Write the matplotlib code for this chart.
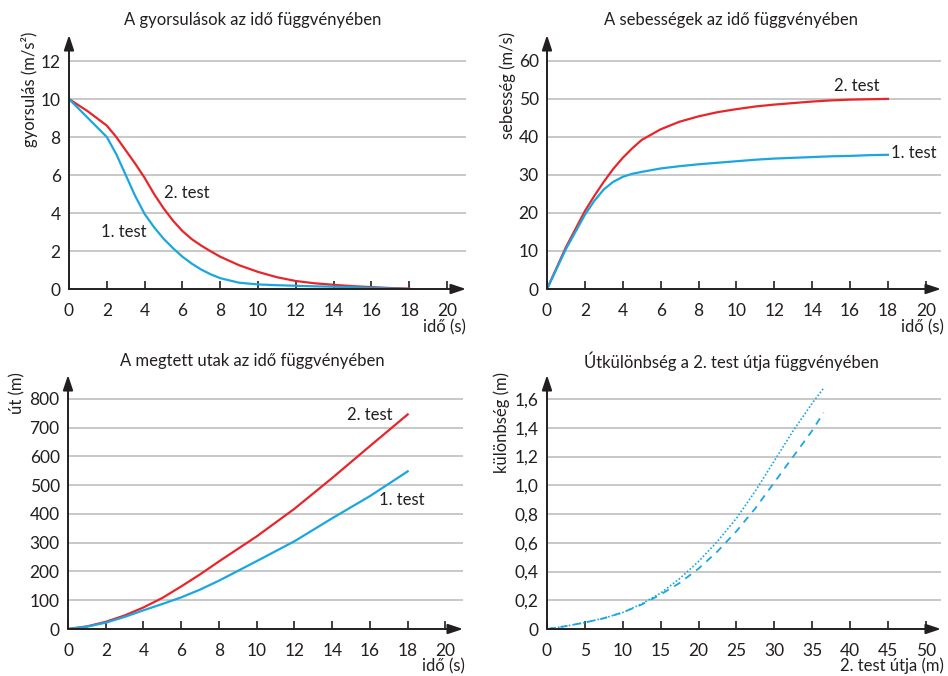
import matplotlib
matplotlib.use("Agg")
import matplotlib.pyplot as plt
from matplotlib.ticker import FuncFormatter

plt.rcParams['font.family'] = ['Lato', 'DejaVu Sans']

RED = '#e8262a'
BLUE = '#1aa7e0'
DARK = '#231f20'
GRID = '#c8c8c8'

# --- data ---
t_acc_1 = [0, 1, 2, 2.5, 3, 3.5, 4, 4.5, 5, 5.5, 6, 6.5, 7, 7.5, 8, 9, 10, 11, 12, 13, 14, 15, 16, 17, 18]
acc_1 = [10, 9.0, 8.0, 7.1, 6.0, 4.9, 3.95, 3.25, 2.65, 2.15, 1.7, 1.33, 1.02, 0.77, 0.57, 0.33, 0.24, 0.2, 0.17, 0.14, 0.12, 0.09, 0.06, 0.03, 0.0]
t_acc_2 = [0, 1, 2, 2.5, 3, 3.5, 4, 4.5, 5, 5.5, 6, 6.5, 7, 7.5, 8, 9, 10, 11, 12, 13, 14, 15, 16, 17, 18]
acc_2 = [10, 9.35, 8.6, 8.0, 7.3, 6.6, 5.85, 5.0, 4.25, 3.6, 3.05, 2.62, 2.28, 1.98, 1.7, 1.25, 0.9, 0.62, 0.42, 0.3, 0.22, 0.15, 0.1, 0.05, 0.02]

t_vel = [0, 1, 2, 2.5, 3, 3.5, 4, 4.5, 5, 6, 7, 8, 9, 10, 11, 12, 13, 14, 15, 16, 17, 18]
vel_1 = [0, 10.5, 19.5, 23.2, 26.2, 28.2, 29.5, 30.3, 30.8, 31.7, 32.3, 32.8, 33.2, 33.6, 34.0, 34.3, 34.5, 34.7, 34.9, 35.0, 35.2, 35.3]
vel_2 = [0, 11.0, 20.5, 24.5, 28.2, 31.6, 34.5, 37.0, 39.2, 42.0, 44.0, 45.4, 46.5, 47.3, 48.0, 48.5, 48.9, 49.3, 49.6, 49.8, 49.9, 50.0]

t_dist = [0, 1, 2, 3, 4, 5, 6, 7, 8, 10, 12, 14, 16, 18]
dist_1 = [0, 8, 22, 42, 65, 87, 110, 137, 168, 236, 305, 385, 462, 548]
dist_2 = [0, 9, 25, 47, 75, 108, 148, 190, 235, 322, 418, 525, 636, 746]

s2 = [0, 2.5, 5, 7.5, 10, 12.5, 15, 17.5, 20, 22.5, 25, 27.5, 30, 32.5, 35, 36.5]
diff_dotted = [0, 0.02, 0.045, 0.075, 0.115, 0.175, 0.25, 0.35, 0.47, 0.61, 0.77, 0.96, 1.17, 1.38, 1.57, 1.675]
diff_dashed = [0, 0.02, 0.045, 0.075, 0.115, 0.17, 0.24, 0.32, 0.42, 0.54, 0.68, 0.84, 1.02, 1.2, 1.38, 1.505]

acc_ticks = [0, 2, 4, 6, 8, 10, 12]
vel_ticks = [0, 10, 20, 30, 40, 50, 60]
dist_ticks = [0, 100, 200, 300, 400, 500, 600, 700, 800]
diff_ticks = [0, 0.2, 0.4, 0.6, 0.8, 1.0, 1.2, 1.4, 1.6]
time_ticks = [0, 2, 4, 6, 8, 10, 12, 14, 16, 18, 20]
s_ticks = [0, 5, 10, 15, 20, 25, 30, 35, 40, 45, 50]

W, H = 948, 676
fig = plt.figure(figsize=(W / 100, H / 100), dpi=100)


def make_ax(left, right, bottom, top, xlim, ylim, xticks, yticks, yfmt=None):
    ax = fig.add_axes([left / W, (H - bottom) / H, (right - left) / W, (bottom - top) / H])
    ax.set_xlim(*xlim)
    ax.set_ylim(*ylim)
    for s in ['top', 'right', 'left', 'bottom']:
        ax.spines[s].set_visible(False)
    ax.set_xticks(xticks)
    ax.set_yticks(yticks)
    ax.tick_params(axis='x', direction='in', length=6, width=1.2, color=DARK,
                   labelsize=12.5, labelcolor=DARK, pad=10)
    ax.tick_params(axis='y', length=0, labelsize=12.5, labelcolor=DARK, pad=6)
    if yfmt is not None:
        ax.yaxis.set_major_formatter(FuncFormatter(yfmt))
    for y in yticks[1:]:
        ax.axhline(y, color=GRID, lw=1.4, zorder=0)
    ax.annotate('', xy=(1, 0), xytext=(0, 0), xycoords='axes fraction',
                arrowprops=dict(arrowstyle='-|>,head_length=0.9,head_width=0.3',
                                color=DARK, lw=1.4, shrinkA=0, shrinkB=0))
    ax.annotate('', xy=(0, 1), xytext=(0, 0), xycoords='axes fraction',
                arrowprops=dict(arrowstyle='-|>,head_length=0.9,head_width=0.3',
                                color=DARK, lw=1.4, shrinkA=0, shrinkB=0))
    return ax


# Panel 1
ax1 = make_ax(69, 466, 289, 35, (0, 21.0), (0, 13.37), time_ticks, acc_ticks)
ax1.plot(t_acc_2, acc_2, color=RED, lw=1.6)
ax1.plot(t_acc_1, acc_1, color=BLUE, lw=1.6)
ax1.text(6.25, 5.05, '2. test', fontsize=12, color=DARK, ha='center', va='center')
ax1.text(2.9, 3.0, '1. test', fontsize=12, color=DARK, ha='center', va='center')

# Panel 2
ax2 = make_ax(547, 941, 289, 35, (0, 20.8), (0, 66.8), time_ticks, vel_ticks)
ax2.plot(t_vel, vel_2, color=RED, lw=1.6)
ax2.plot(t_vel, vel_1, color=BLUE, lw=1.6)
ax2.text(16.35, 53.3, '2. test', fontsize=12, color=DARK, ha='center', va='center')
ax2.text(19.35, 35.8, '1. test', fontsize=12, color=DARK, ha='center', va='center')

# Panel 3
ax3 = make_ax(68, 463, 629, 375, (0, 20.93), (0, 883), time_ticks, dist_ticks)
ax3.plot(t_dist, dist_2, color=RED, lw=1.6)
ax3.plot(t_dist, dist_1, color=BLUE, lw=1.6)
ax3.text(16.0, 745, '2. test', fontsize=12, color=DARK, ha='center', va='center')
ax3.text(17.7, 450, '1. test', fontsize=12, color=DARK, ha='center', va='center')

# Panel 4
def comma(v, pos):
    if abs(v) < 1e-9:
        return '0'
    return f'{v:.1f}'.replace('.', ',')

ax4 = make_ax(547, 941, 629, 375, (0, 52), (0, 1.767), s_ticks, diff_ticks, comma)
ax4.plot(s2, diff_dotted, color=BLUE, lw=1.2, linestyle=(0, (1, 1.2)))
ax4.plot(s2, diff_dashed, color=BLUE, lw=1.3, linestyle=(0, (4, 3.5)))

# titles
tfs = 12
fig.text(253 / W, 1 - 20 / H, 'A gyorsulások az idő függvényében', ha='center', va='center', fontsize=tfs, color=DARK)
fig.text(731 / W, 1 - 20 / H, 'A sebességek az idő függvényében', ha='center', va='center', fontsize=tfs, color=DARK)
fig.text(252 / W, 1 - 361 / H, 'A megtett utak az idő függvényében', ha='center', va='center', fontsize=tfs, color=DARK)
fig.text(731 / W, 1 - 361 / H, 'Útkülönbség a 2. test útja függvényében', ha='center', va='center', fontsize=tfs, color=DARK)

# axis labels
lfs = 12
fig.text(466 / W, 1 - 327 / H, 'idő (s)', ha='right', va='center', fontsize=lfs, color=DARK)
fig.text(944 / W, 1 - 327 / H, 'idő (s)', ha='right', va='center', fontsize=lfs, color=DARK)
fig.text(465 / W, 1 - 666 / H, 'idő (s)', ha='right', va='center', fontsize=lfs, color=DARK)
fig.text(944 / W, 1 - 666 / H, '2. test útja (m)', ha='right', va='center', fontsize=lfs, color=DARK)

fig.text(30 / W, 1 - 32 / H, 'gyorsulás (m/s²)', rotation=90, ha='center', va='top', fontsize=lfs, color=DARK)
fig.text(508 / W, 1 - 32 / H, 'sebesség (m/s)', rotation=90, ha='center', va='top', fontsize=lfs, color=DARK)
fig.text(17 / W, 1 - 372 / H, 'út (m)', rotation=90, ha='center', va='top', fontsize=lfs, color=DARK)
fig.text(502 / W, 1 - 372 / H, 'különbség (m)', rotation=90, ha='center', va='top', fontsize=lfs, color=DARK)

fig.savefig('out.png', dpi=100)
